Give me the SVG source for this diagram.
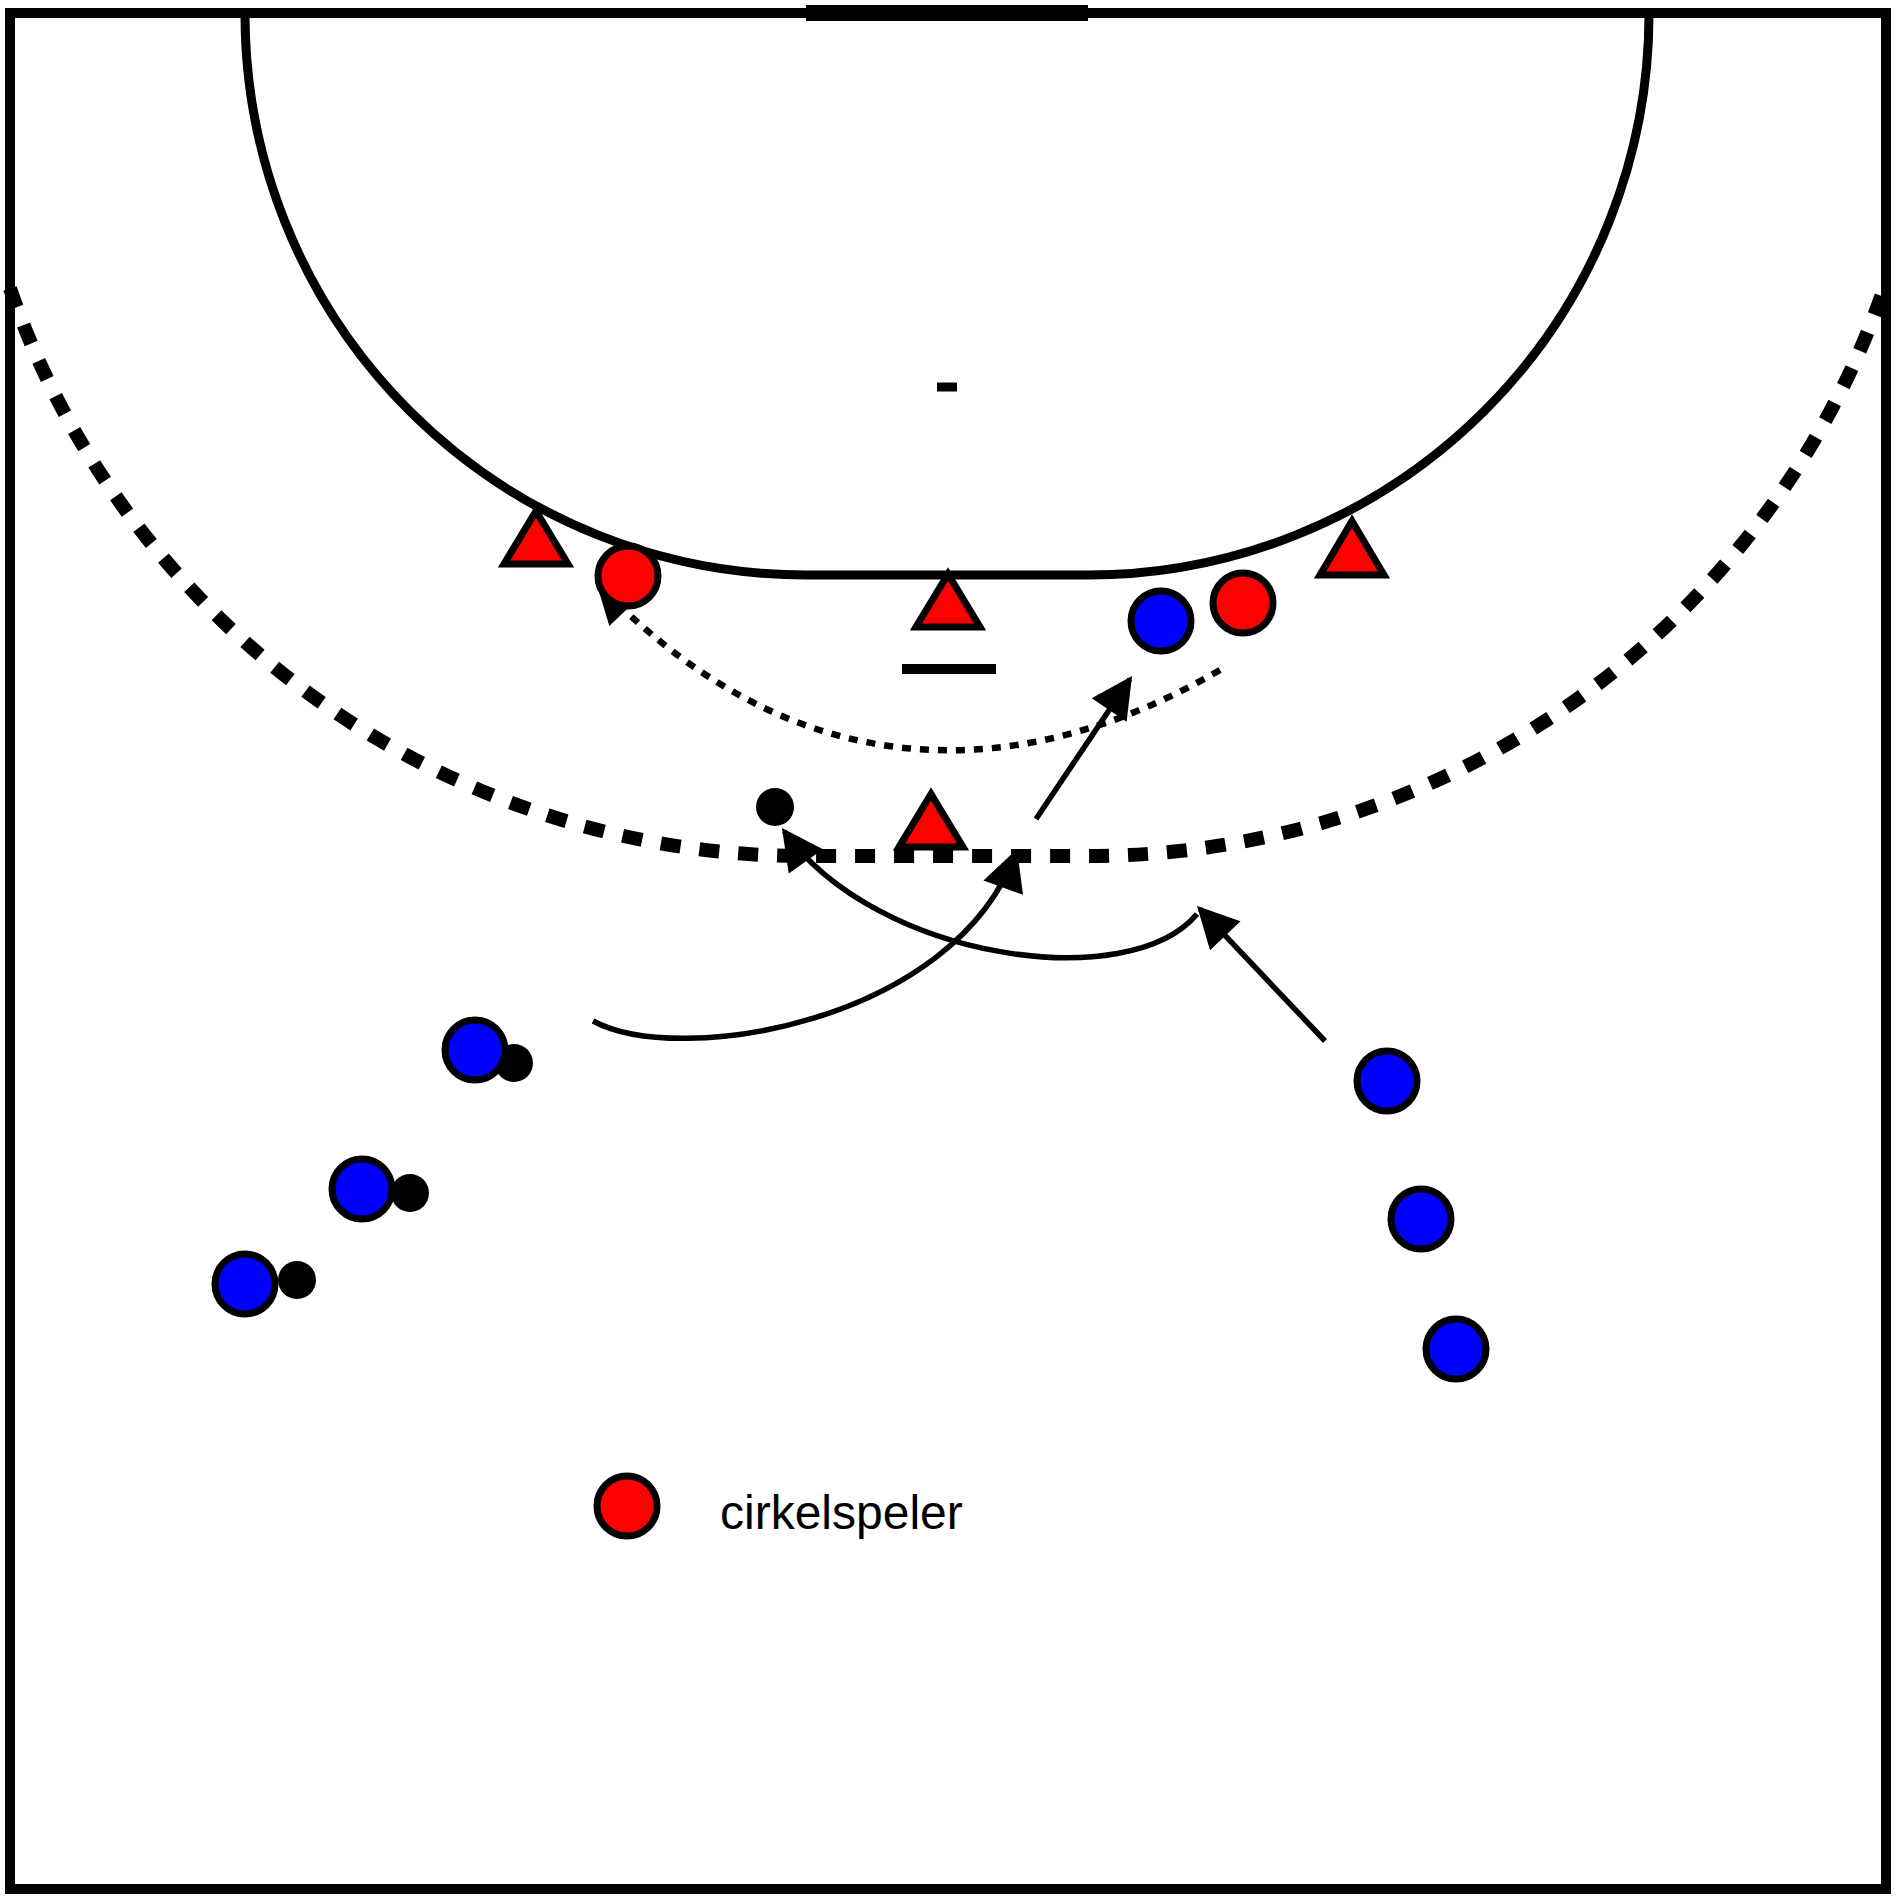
<svg xmlns="http://www.w3.org/2000/svg" width="1896" height="1898" viewBox="0 0 1896 1898">
  <style>
    .line { fill: none; stroke: #000; }
    .blue { fill: #0000ff; stroke: #000; stroke-width: 7; }
    .red { fill: #ff0000; stroke: #000; stroke-width: 7; }
    .ball { fill: #000; }
    .cone { fill: #ff0000; stroke: #000; stroke-width: 7; stroke-linejoin: miter; }
    .move { fill: none; stroke: #000; stroke-width: 5.5; }
    .dotted { fill: none; stroke: #000; stroke-width: 6.5; stroke-dasharray: 9 9; }
    .label { font-family: "Liberation Sans", Arial, sans-serif; font-size: 48px; fill: #000; }
  </style>
  <defs>
    <marker id="head" markerUnits="userSpaceOnUse" markerWidth="50" markerHeight="50" viewBox="-44 -25 50 50" refX="0" refY="0" orient="auto">
      <path d="M4,0 L-37,-21 L-37,21 Z" fill="#000"/>
    </marker>
  </defs>
  <rect x="0" y="0" width="1896" height="1898" fill="#fff"/>
  <g id="court">
    <rect x="10" y="13" width="1876" height="1876" class="line" stroke-width="10"/>
    <line x1="806" y1="13" x2="1088" y2="13" stroke="#000" stroke-width="16"/>
    <path class="line" stroke-width="9" d="M245,14 A561,561 0 0 0 806,575 L1088,575 A561,561 0 0 0 1649,14"/>
    <path class="line" stroke-width="14" stroke-dasharray="20 19" d="M10,288.5 A842,842 0 0 0 806,856 L1088,856 A842,842 0 0 0 1886,282.6"/>
    <line x1="902" y1="669" x2="996" y2="669" stroke="#000" stroke-width="10"/>
    <line x1="937" y1="387" x2="957" y2="387" stroke="#000" stroke-width="9"/>
  </g>
  <g id="connectors">
    <path id="pass-run" class="move" marker-end="url(#head)" d="M593,1021 C680,1068 955,1022 1015.7,852.8"/>
    <path id="curve-run" class="move" marker-end="url(#head)" d="M1197,914 C1130,995 877,961 784.3,831.3"/>
    <path id="run-b" class="move" marker-end="url(#head)" d="M1036,819 L1129.8,679.3"/>
    <path id="run-c" class="move" marker-end="url(#head)" d="M1325,1041 L1199.8,908.9"/>
    <path id="pivot-run" class="dotted" marker-end="url(#head)" d="M1220,670 C1040,775 810,805 598.9,584.8"/>
  </g>
  <g id="cone1"><polygon class="cone" points="536,511 504,564 568,564"/></g>
  <g id="cone2"><polygon class="cone" points="948,574 916,627 980,627"/></g>
  <g id="cone3"><polygon class="cone" points="1352,521 1320,575 1384,575"/></g>
  <g id="cone4"><polygon class="cone" points="931,794 899,847 963,847"/></g>
  <g id="ball-center"><circle class="ball" cx="775" cy="807" r="19"/></g>
  <g id="ball1"><circle class="ball" cx="514" cy="1063" r="19"/></g>
  <g id="ball2"><circle class="ball" cx="410" cy="1193" r="19"/></g>
  <g id="ball3"><circle class="ball" cx="297" cy="1280" r="19"/></g>
  <g id="red-left"><circle class="red" cx="628" cy="576" r="30"/></g>
  <g id="red-right"><circle class="red" cx="1243" cy="603" r="30"/></g>
  <g id="blue-pivot"><circle class="blue" cx="1161" cy="621" r="30"/></g>
  <g id="blue-l1"><circle class="blue" cx="475" cy="1050" r="30"/></g>
  <g id="blue-l2"><circle class="blue" cx="362" cy="1189" r="30"/></g>
  <g id="blue-l3"><circle class="blue" cx="245" cy="1284" r="30"/></g>
  <g id="blue-r1"><circle class="blue" cx="1387" cy="1081" r="30"/></g>
  <g id="blue-r2"><circle class="blue" cx="1421" cy="1219" r="30"/></g>
  <g id="blue-r3"><circle class="blue" cx="1456" cy="1349" r="30"/></g>
  <g id="legend">
    <circle class="red" cx="627" cy="1506" r="30"/>
    <text class="label" x="720" y="1529">cirkelspeler</text>
  </g>
</svg>
